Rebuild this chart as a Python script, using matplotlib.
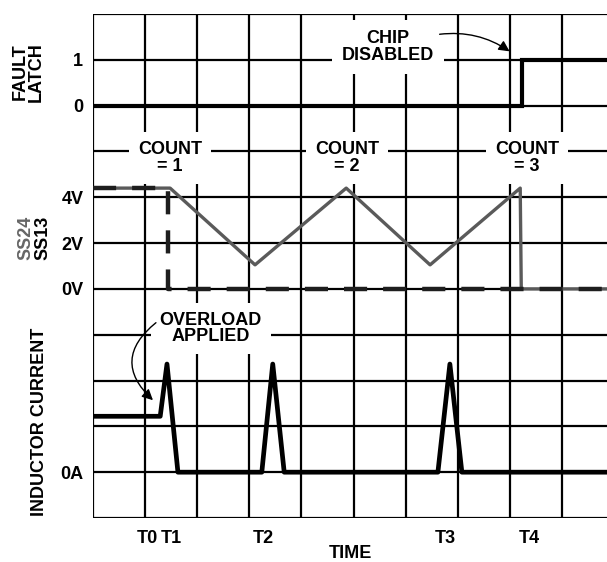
import matplotlib
matplotlib.use("Agg")
import matplotlib.pyplot as plt

plt.rcParams['font.family'] = ['Liberation Sans', 'DejaVu Sans']
plt.rcParams['font.weight'] = 'bold'
plt.rcParams['axes.labelweight'] = 'bold'

# time axis in grid divisions
fault_t = [0, 8.23, 8.23, 9.9]
fault_v = [0, 0, 1, 1]

ss24_t = [0, 1.48, 3.11, 4.86, 6.47, 8.2, 8.22, 9.9]
ss24_v = [4.4, 4.4, 1.05, 4.4, 1.05, 4.4, 0, 0]

ss13_t = [0, 1.44, 1.44, 9.9]
ss13_v = [4.4, 4.4, 0, 0]

ind_t = [0, 1.29, 1.42, 1.63, 3.24, 3.45, 3.67, 6.62, 6.85, 7.08, 9.9]
ind_i = [1.22, 1.22, 2.36, 0, 0, 2.36, 0, 0, 2.36, 0, 0]

tick_t = [1.04, 1.5, 3.26, 6.76, 8.37]
tick_names = ['T0', 'T1', 'T2', 'T3', 'T4']

ytick_pos = [1, 5, 6, 7, 9, 10]
ytick_names = ['0A', '0V', '2V', '4V', '0', '1']

# offsets of each trace on the grid
FAULT0 = 9
SS0 = 5       # 0V row, 2V per division
IND0 = 1      # 0A row

W, H = 607, 562
fig = plt.figure(figsize=(W / 100, H / 100), dpi=100)
ax = fig.add_axes([93 / W, 44 / H, (W - 93) / W, 504 / H])
ax.set_xlim(0, (W - 93) / 52.1)
ax.set_ylim(0, 11)
for s in ax.spines.values():
    s.set_visible(False)

ax.vlines(range(0, 10), 0, 11, color='black', lw=1.6, zorder=1)
ax.hlines(range(0, 12), 0, 11, color='black', lw=1.6, zorder=1)

ax.plot(fault_t, [FAULT0 + v for v in fault_v], color='black', lw=3, zorder=5,
        solid_joinstyle='miter')
ax.plot(ss24_t, [SS0 + v / 2 for v in ss24_v], color='#5a5a5a', lw=2.4, zorder=5)
ax.plot(ss13_t, [SS0 + v / 2 for v in ss13_v], color='#1e1e1e', lw=3.2, zorder=6,
        dashes=(5.2, 3.6))
ax.plot(ind_t, [IND0 + i for i in ind_i], color='black', lw=3.4, zorder=5)

ax.set_xticks(tick_t)
ax.set_xticklabels(tick_names)
ax.set_yticks(ytick_pos)
ax.set_yticklabels(ytick_names)
ax.tick_params(length=0, labelsize=13)
ax.tick_params(axis='x', pad=8.5)
ax.tick_params(axis='y', pad=7)
ax.set_xlabel('TIME', fontsize=13, fontweight='bold', labelpad=-1)

box = dict(boxstyle='square,pad=0.5', fc='white', ec='none')
for x, label in [(1.48, '= 1'), (4.88, '= 2'), (8.33, '= 3')]:
    ax.text(x, 7.86, 'COUNT\n' + label, ha='center', va='center', fontsize=13,
            linespacing=0.95, bbox=box, zorder=3)

ax.text(5.66, 10.28, 'CHIP\nDISABLED', ha='center', va='center', fontsize=13,
        linespacing=0.95, bbox=dict(boxstyle='square,pad=0.55', fc='white', ec='none'),
        zorder=3)
ax.text(2.26, 4.13, 'OVERLOAD\nAPPLIED', ha='center', va='center', fontsize=13,
        linespacing=0.95, bbox=box, zorder=3)

ax.annotate('', xy=(8.04, 10.15), xytext=(6.6, 10.55),
            arrowprops=dict(arrowstyle='-|>', color='black', lw=1,
                            mutation_scale=16, connectionstyle='arc3,rad=-0.2'),
            zorder=7)
ax.annotate('', xy=(1.19, 2.53), xytext=(1.25, 4.3),
            arrowprops=dict(arrowstyle='-|>', color='black', lw=1,
                            mutation_scale=16, connectionstyle='arc3,rad=0.6'),
            zorder=7)

fig.text(28 / W, 1 - 72 / H, 'FAULT\nLATCH', rotation=90, ha='center', va='center',
         fontsize=13, linespacing=0.95)
fig.text(25.5 / W, 1 - 238 / H, 'SS24', rotation=90, ha='center', va='center',
         fontsize=13, color='#666666')
fig.text(43 / W, 1 - 238 / H, 'SS13', rotation=90, ha='center', va='center',
         fontsize=13)
fig.text(40 / W, 1 - 422 / H, 'INDUCTOR CURRENT', rotation=90, ha='center',
         va='center', fontsize=13)

fig.savefig('out.png', dpi=100)
